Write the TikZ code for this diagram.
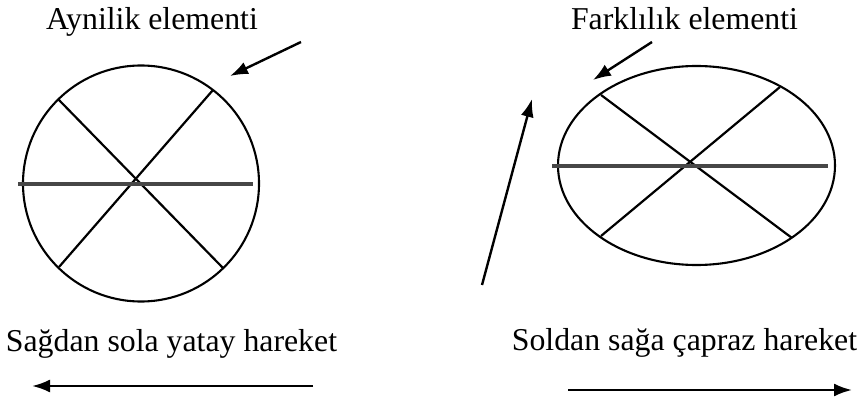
\documentclass[tikz,border=0pt]{standalone}
\usepackage{fontspec}
\setmainfont{Liberation Serif}
\usetikzlibrary{arrows.meta}

\begin{document}
\begin{tikzpicture}[x=0.5pt,y=-0.5pt,
  lbl/.style={rectangle,anchor=base,inner sep=0pt,font=\fontsize{15.9}{18}\selectfont},
  rim/.style={line width=1.05pt},
  spoke/.style={line width=1.1pt},
  axis/.style={line width=2pt,black!72},
  pointer/.style={-{Latex[length=9pt,width=6.5pt]},line width=1.2pt}]
\useasboundingbox (0,0) rectangle (857,401);

% labels
\node (same) at (152,30) [lbl] {Aynilik elementi};
\node (diff) at (684.5,30) [lbl] {Farklılık elementi};
\node (leftmove) at (171.5,351) [lbl] {Sağdan sola yatay hareket};
\node (crossmove) at (684.5,350) [lbl] {Soldan sağa çapraz hareket};

% left circle
\draw[rim] (141,183.5) circle [radius=118];
\coordinate (c1ul) at (58,99);
\coordinate (c1lr) at (223,268);
\coordinate (c1ur) at (213,90);
\coordinate (c1ll) at (59,267);
\coordinate (c1w) at (18,184);
\coordinate (c1e) at (253,184);
\draw[spoke] (c1ul) -- (c1lr);
\draw[spoke] (c1ur) -- (c1ll);
\draw[axis] (c1w) -- (c1e);

% right ellipse
\draw[rim] (696.5,165.5) ellipse [x radius=138.5, y radius=99.5];
\coordinate (c2ul) at (601,95);
\coordinate (c2lr) at (792,238);
\coordinate (c2ur) at (780,87);
\coordinate (c2ll) at (601,236);
\coordinate (c2w) at (552,166);
\coordinate (c2e) at (828,166);
\draw[spoke] (c2ul) -- (c2lr);
\draw[spoke] (c2ur) -- (c2ll);
\draw[axis] (c2w) -- (c2e);

% arrows
\coordinate (p1s) at (301,42);
\coordinate (p1t) at (230,76);
\coordinate (p2s) at (652,42);
\coordinate (p2t) at (593,80);
\coordinate (ups) at (482,285);
\coordinate (upt) at (532,99);
\coordinate (ls) at (313,386);
\coordinate (lt) at (32,386);
\coordinate (rs) at (568,390);
\coordinate (rt) at (852,390);

\draw[pointer] (p1s) -- (p1t);
\draw[pointer] (p2s) -- (p2t);
\draw[pointer] (ups) -- (upt);
\draw[pointer] (ls) -- (lt);
\draw[pointer] (rs) -- (rt);

\end{tikzpicture}
\end{document}
